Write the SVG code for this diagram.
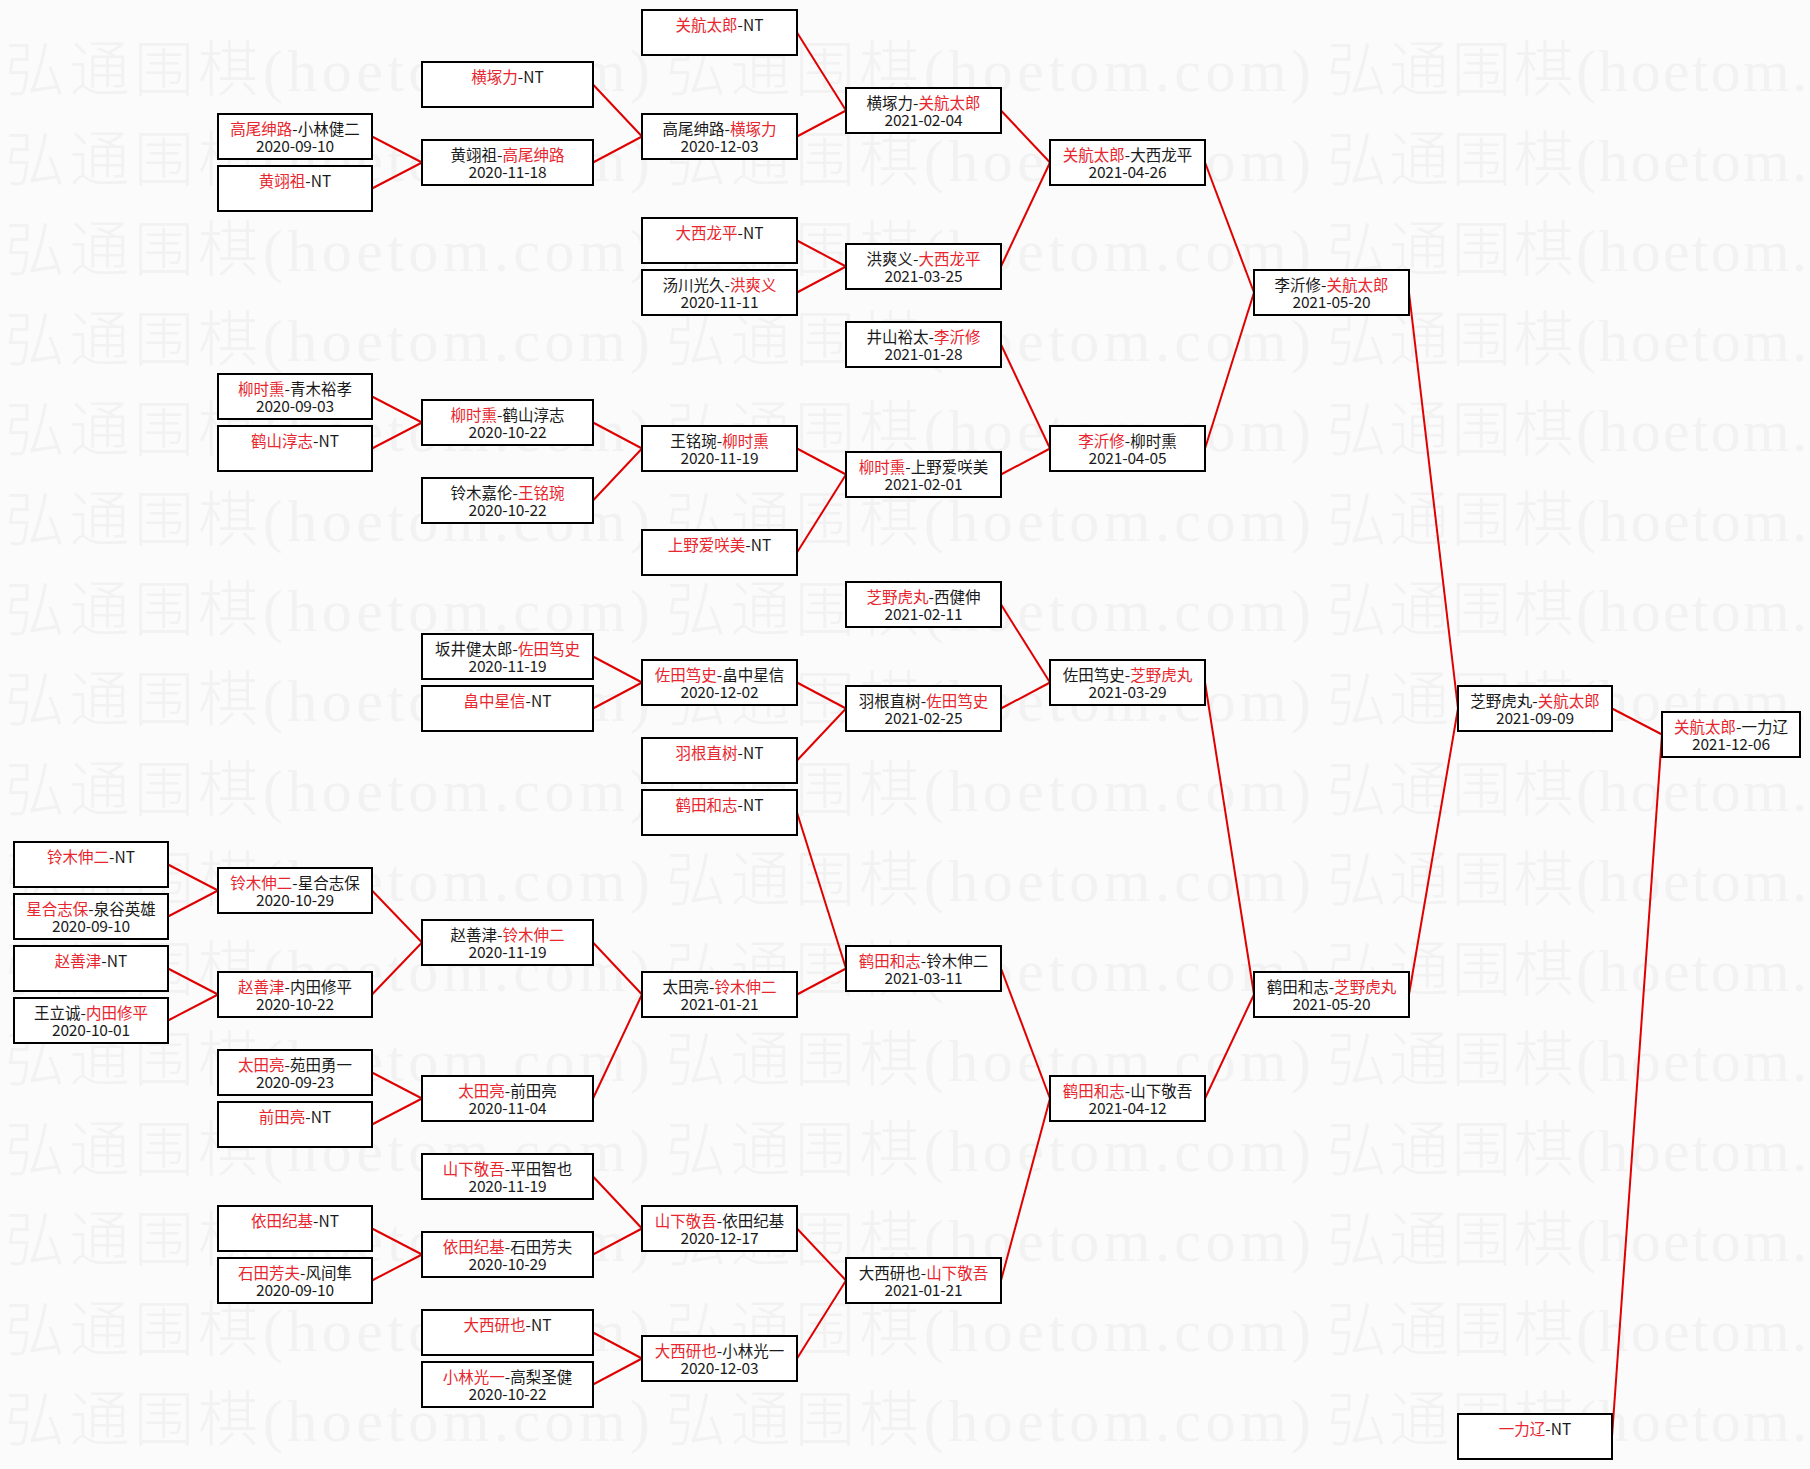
<svg xmlns="http://www.w3.org/2000/svg" width="1810" height="1469" viewBox="0 0 1810 1469">
<style>
.bg{fill:#fbfbfb}
.wm{font-family:"Noto Sans CJK SC",sans-serif;font-size:60px;font-weight:300;fill:#f2f2f2}
.wl{font-family:"Liberation Serif","Noto Sans CJK SC",serif}
.box{fill:#ffffff;stroke:#000000;stroke-width:2}
.t{font-family:"Noto Sans CJK SC",sans-serif;font-size:15.5px;fill:#1a1a1a;text-anchor:middle}
.r{fill:#e8262e}
.conn line{stroke:#e00000;stroke-width:2;fill:none}
</style>
<rect class="bg" x="0" y="0" width="1810" height="1469"/>
<g id="watermark">
<text class="wm" x="5" y="91" textLength="645" lengthAdjust="spacing">弘通围棋<tspan class="wl">(hoetom.com)</tspan></text><text class="wm" x="666" y="91" textLength="645" lengthAdjust="spacing">弘通围棋<tspan class="wl">(hoetom.com)</tspan></text><text class="wm" x="1327" y="91" textLength="480" lengthAdjust="spacing">弘通围棋<tspan class="wl">(hoetom.</tspan></text>
<text class="wm" x="5" y="181" textLength="645" lengthAdjust="spacing">弘通围棋<tspan class="wl">(hoetom.com)</tspan></text><text class="wm" x="666" y="181" textLength="645" lengthAdjust="spacing">弘通围棋<tspan class="wl">(hoetom.com)</tspan></text><text class="wm" x="1327" y="181" textLength="480" lengthAdjust="spacing">弘通围棋<tspan class="wl">(hoetom.</tspan></text>
<text class="wm" x="5" y="271" textLength="645" lengthAdjust="spacing">弘通围棋<tspan class="wl">(hoetom.com)</tspan></text><text class="wm" x="666" y="271" textLength="645" lengthAdjust="spacing">弘通围棋<tspan class="wl">(hoetom.com)</tspan></text><text class="wm" x="1327" y="271" textLength="480" lengthAdjust="spacing">弘通围棋<tspan class="wl">(hoetom.</tspan></text>
<text class="wm" x="5" y="361" textLength="645" lengthAdjust="spacing">弘通围棋<tspan class="wl">(hoetom.com)</tspan></text><text class="wm" x="666" y="361" textLength="645" lengthAdjust="spacing">弘通围棋<tspan class="wl">(hoetom.com)</tspan></text><text class="wm" x="1327" y="361" textLength="480" lengthAdjust="spacing">弘通围棋<tspan class="wl">(hoetom.</tspan></text>
<text class="wm" x="5" y="451" textLength="645" lengthAdjust="spacing">弘通围棋<tspan class="wl">(hoetom.com)</tspan></text><text class="wm" x="666" y="451" textLength="645" lengthAdjust="spacing">弘通围棋<tspan class="wl">(hoetom.com)</tspan></text><text class="wm" x="1327" y="451" textLength="480" lengthAdjust="spacing">弘通围棋<tspan class="wl">(hoetom.</tspan></text>
<text class="wm" x="5" y="541" textLength="645" lengthAdjust="spacing">弘通围棋<tspan class="wl">(hoetom.com)</tspan></text><text class="wm" x="666" y="541" textLength="645" lengthAdjust="spacing">弘通围棋<tspan class="wl">(hoetom.com)</tspan></text><text class="wm" x="1327" y="541" textLength="480" lengthAdjust="spacing">弘通围棋<tspan class="wl">(hoetom.</tspan></text>
<text class="wm" x="5" y="631" textLength="645" lengthAdjust="spacing">弘通围棋<tspan class="wl">(hoetom.com)</tspan></text><text class="wm" x="666" y="631" textLength="645" lengthAdjust="spacing">弘通围棋<tspan class="wl">(hoetom.com)</tspan></text><text class="wm" x="1327" y="631" textLength="480" lengthAdjust="spacing">弘通围棋<tspan class="wl">(hoetom.</tspan></text>
<text class="wm" x="5" y="721" textLength="645" lengthAdjust="spacing">弘通围棋<tspan class="wl">(hoetom.com)</tspan></text><text class="wm" x="666" y="721" textLength="645" lengthAdjust="spacing">弘通围棋<tspan class="wl">(hoetom.com)</tspan></text><text class="wm" x="1327" y="721" textLength="480" lengthAdjust="spacing">弘通围棋<tspan class="wl">(hoetom.</tspan></text>
<text class="wm" x="5" y="811" textLength="645" lengthAdjust="spacing">弘通围棋<tspan class="wl">(hoetom.com)</tspan></text><text class="wm" x="666" y="811" textLength="645" lengthAdjust="spacing">弘通围棋<tspan class="wl">(hoetom.com)</tspan></text><text class="wm" x="1327" y="811" textLength="480" lengthAdjust="spacing">弘通围棋<tspan class="wl">(hoetom.</tspan></text>
<text class="wm" x="5" y="901" textLength="645" lengthAdjust="spacing">弘通围棋<tspan class="wl">(hoetom.com)</tspan></text><text class="wm" x="666" y="901" textLength="645" lengthAdjust="spacing">弘通围棋<tspan class="wl">(hoetom.com)</tspan></text><text class="wm" x="1327" y="901" textLength="480" lengthAdjust="spacing">弘通围棋<tspan class="wl">(hoetom.</tspan></text>
<text class="wm" x="5" y="991" textLength="645" lengthAdjust="spacing">弘通围棋<tspan class="wl">(hoetom.com)</tspan></text><text class="wm" x="666" y="991" textLength="645" lengthAdjust="spacing">弘通围棋<tspan class="wl">(hoetom.com)</tspan></text><text class="wm" x="1327" y="991" textLength="480" lengthAdjust="spacing">弘通围棋<tspan class="wl">(hoetom.</tspan></text>
<text class="wm" x="5" y="1081" textLength="645" lengthAdjust="spacing">弘通围棋<tspan class="wl">(hoetom.com)</tspan></text><text class="wm" x="666" y="1081" textLength="645" lengthAdjust="spacing">弘通围棋<tspan class="wl">(hoetom.com)</tspan></text><text class="wm" x="1327" y="1081" textLength="480" lengthAdjust="spacing">弘通围棋<tspan class="wl">(hoetom.</tspan></text>
<text class="wm" x="5" y="1171" textLength="645" lengthAdjust="spacing">弘通围棋<tspan class="wl">(hoetom.com)</tspan></text><text class="wm" x="666" y="1171" textLength="645" lengthAdjust="spacing">弘通围棋<tspan class="wl">(hoetom.com)</tspan></text><text class="wm" x="1327" y="1171" textLength="480" lengthAdjust="spacing">弘通围棋<tspan class="wl">(hoetom.</tspan></text>
<text class="wm" x="5" y="1261" textLength="645" lengthAdjust="spacing">弘通围棋<tspan class="wl">(hoetom.com)</tspan></text><text class="wm" x="666" y="1261" textLength="645" lengthAdjust="spacing">弘通围棋<tspan class="wl">(hoetom.com)</tspan></text><text class="wm" x="1327" y="1261" textLength="480" lengthAdjust="spacing">弘通围棋<tspan class="wl">(hoetom.</tspan></text>
<text class="wm" x="5" y="1351" textLength="645" lengthAdjust="spacing">弘通围棋<tspan class="wl">(hoetom.com)</tspan></text><text class="wm" x="666" y="1351" textLength="645" lengthAdjust="spacing">弘通围棋<tspan class="wl">(hoetom.com)</tspan></text><text class="wm" x="1327" y="1351" textLength="480" lengthAdjust="spacing">弘通围棋<tspan class="wl">(hoetom.</tspan></text>
<text class="wm" x="5" y="1441" textLength="645" lengthAdjust="spacing">弘通围棋<tspan class="wl">(hoetom.com)</tspan></text><text class="wm" x="666" y="1441" textLength="645" lengthAdjust="spacing">弘通围棋<tspan class="wl">(hoetom.com)</tspan></text><text class="wm" x="1327" y="1441" textLength="480" lengthAdjust="spacing">弘通围棋<tspan class="wl">(hoetom.</tspan></text>
</g>
<g id="connectors" class="conn">
<line x1="168" y1="864.5" x2="218" y2="890.5"/>
<line x1="168" y1="916.5" x2="218" y2="890.5"/>
<line x1="168" y1="968.5" x2="218" y2="994.5"/>
<line x1="168" y1="1020.5" x2="218" y2="994.5"/>
<line x1="372" y1="136.5" x2="422" y2="162.5"/>
<line x1="372" y1="188.5" x2="422" y2="162.5"/>
<line x1="372" y1="396.5" x2="422" y2="422.5"/>
<line x1="372" y1="448.5" x2="422" y2="422.5"/>
<line x1="372" y1="890.5" x2="422" y2="942.5"/>
<line x1="372" y1="994.5" x2="422" y2="942.5"/>
<line x1="372" y1="1072.5" x2="422" y2="1098.5"/>
<line x1="372" y1="1124.5" x2="422" y2="1098.5"/>
<line x1="372" y1="1228.5" x2="422" y2="1254.5"/>
<line x1="372" y1="1280.5" x2="422" y2="1254.5"/>
<line x1="593" y1="84.5" x2="642" y2="136.5"/>
<line x1="593" y1="162.5" x2="642" y2="136.5"/>
<line x1="593" y1="422.5" x2="642" y2="448.5"/>
<line x1="593" y1="500.5" x2="642" y2="448.5"/>
<line x1="593" y1="656.5" x2="642" y2="682.5"/>
<line x1="593" y1="708.5" x2="642" y2="682.5"/>
<line x1="593" y1="942.5" x2="642" y2="994.5"/>
<line x1="593" y1="1098.5" x2="642" y2="994.5"/>
<line x1="593" y1="1176.5" x2="642" y2="1228.5"/>
<line x1="593" y1="1254.5" x2="642" y2="1228.5"/>
<line x1="593" y1="1332.5" x2="642" y2="1358.5"/>
<line x1="593" y1="1384.5" x2="642" y2="1358.5"/>
<line x1="797" y1="32.5" x2="846" y2="110.5"/>
<line x1="797" y1="136.5" x2="846" y2="110.5"/>
<line x1="797" y1="240.5" x2="846" y2="266.5"/>
<line x1="797" y1="292.5" x2="846" y2="266.5"/>
<line x1="797" y1="448.5" x2="846" y2="474.5"/>
<line x1="797" y1="552.5" x2="846" y2="474.5"/>
<line x1="797" y1="682.5" x2="846" y2="708.5"/>
<line x1="797" y1="760.5" x2="846" y2="708.5"/>
<line x1="797" y1="812.5" x2="846" y2="968.5"/>
<line x1="797" y1="994.5" x2="846" y2="968.5"/>
<line x1="797" y1="1228.5" x2="846" y2="1280.5"/>
<line x1="797" y1="1358.5" x2="846" y2="1280.5"/>
<line x1="1001" y1="110.5" x2="1050" y2="162.5"/>
<line x1="1001" y1="266.5" x2="1050" y2="162.5"/>
<line x1="1001" y1="344.5" x2="1050" y2="448.5"/>
<line x1="1001" y1="474.5" x2="1050" y2="448.5"/>
<line x1="1001" y1="604.5" x2="1050" y2="682.5"/>
<line x1="1001" y1="708.5" x2="1050" y2="682.5"/>
<line x1="1001" y1="968.5" x2="1050" y2="1098.5"/>
<line x1="1001" y1="1280.5" x2="1050" y2="1098.5"/>
<line x1="1205" y1="162.5" x2="1254" y2="292.5"/>
<line x1="1205" y1="448.5" x2="1254" y2="292.5"/>
<line x1="1205" y1="682.5" x2="1254" y2="994.5"/>
<line x1="1205" y1="1098.5" x2="1254" y2="994.5"/>
<line x1="1409" y1="292.5" x2="1458" y2="708.5"/>
<line x1="1409" y1="994.5" x2="1458" y2="708.5"/>
<line x1="1612" y1="708.5" x2="1662" y2="734.5"/>
<line x1="1612" y1="1436.5" x2="1662" y2="734.5"/>
</g>
<g id="n-c0-32"><rect class="box" x="14" y="842" width="154" height="45"/><text class="t" x="91" y="862.5"><tspan class="r">铃木伸二</tspan>-NT</text></g>
<g id="n-c0-34"><rect class="box" x="14" y="894" width="154" height="45"/><text class="t" x="91" y="914.5"><tspan class="r">星合志保</tspan>-泉谷英雄</text><text class="t" x="91" y="931.5" textLength="78" lengthAdjust="spacing">2020-09-10</text></g>
<g id="n-c0-36"><rect class="box" x="14" y="946" width="154" height="45"/><text class="t" x="91" y="966.5"><tspan class="r">赵善津</tspan>-NT</text></g>
<g id="n-c0-38"><rect class="box" x="14" y="998" width="154" height="45"/><text class="t" x="91" y="1018.5">王立诚-<tspan class="r">内田修平</tspan></text><text class="t" x="91" y="1035.5" textLength="78" lengthAdjust="spacing">2020-10-01</text></g>
<g id="n-c1-4"><rect class="box" x="218" y="114" width="154" height="45"/><text class="t" x="295" y="134.5"><tspan class="r">高尾绅路</tspan>-小林健二</text><text class="t" x="295" y="151.5" textLength="78" lengthAdjust="spacing">2020-09-10</text></g>
<g id="n-c1-6"><rect class="box" x="218" y="166" width="154" height="45"/><text class="t" x="295" y="186.5"><tspan class="r">黄翊祖</tspan>-NT</text></g>
<g id="n-c1-14"><rect class="box" x="218" y="374" width="154" height="45"/><text class="t" x="295" y="394.5"><tspan class="r">柳时熏</tspan>-青木裕孝</text><text class="t" x="295" y="411.5" textLength="78" lengthAdjust="spacing">2020-09-03</text></g>
<g id="n-c1-16"><rect class="box" x="218" y="426" width="154" height="45"/><text class="t" x="295" y="446.5"><tspan class="r">鹤山淳志</tspan>-NT</text></g>
<g id="n-c1-33"><rect class="box" x="218" y="868" width="154" height="45"/><text class="t" x="295" y="888.5"><tspan class="r">铃木伸二</tspan>-星合志保</text><text class="t" x="295" y="905.5" textLength="78" lengthAdjust="spacing">2020-10-29</text></g>
<g id="n-c1-37"><rect class="box" x="218" y="972" width="154" height="45"/><text class="t" x="295" y="992.5"><tspan class="r">赵善津</tspan>-内田修平</text><text class="t" x="295" y="1009.5" textLength="78" lengthAdjust="spacing">2020-10-22</text></g>
<g id="n-c1-40"><rect class="box" x="218" y="1050" width="154" height="45"/><text class="t" x="295" y="1070.5"><tspan class="r">太田亮</tspan>-苑田勇一</text><text class="t" x="295" y="1087.5" textLength="78" lengthAdjust="spacing">2020-09-23</text></g>
<g id="n-c1-42"><rect class="box" x="218" y="1102" width="154" height="45"/><text class="t" x="295" y="1122.5"><tspan class="r">前田亮</tspan>-NT</text></g>
<g id="n-c1-46"><rect class="box" x="218" y="1206" width="154" height="45"/><text class="t" x="295" y="1226.5"><tspan class="r">依田纪基</tspan>-NT</text></g>
<g id="n-c1-48"><rect class="box" x="218" y="1258" width="154" height="45"/><text class="t" x="295" y="1278.5"><tspan class="r">石田芳夫</tspan>-风间隼</text><text class="t" x="295" y="1295.5" textLength="78" lengthAdjust="spacing">2020-09-10</text></g>
<g id="n-c2-2"><rect class="box" x="422" y="62" width="171" height="45"/><text class="t" x="507.5" y="82.5"><tspan class="r">横塚力</tspan>-NT</text></g>
<g id="n-c2-5"><rect class="box" x="422" y="140" width="171" height="45"/><text class="t" x="507.5" y="160.5">黄翊祖-<tspan class="r">高尾绅路</tspan></text><text class="t" x="507.5" y="177.5" textLength="78" lengthAdjust="spacing">2020-11-18</text></g>
<g id="n-c2-15"><rect class="box" x="422" y="400" width="171" height="45"/><text class="t" x="507.5" y="420.5"><tspan class="r">柳时熏</tspan>-鹤山淳志</text><text class="t" x="507.5" y="437.5" textLength="78" lengthAdjust="spacing">2020-10-22</text></g>
<g id="n-c2-18"><rect class="box" x="422" y="478" width="171" height="45"/><text class="t" x="507.5" y="498.5">铃木嘉伦-<tspan class="r">王铭琬</tspan></text><text class="t" x="507.5" y="515.5" textLength="78" lengthAdjust="spacing">2020-10-22</text></g>
<g id="n-c2-24"><rect class="box" x="422" y="634" width="171" height="45"/><text class="t" x="507.5" y="654.5">坂井健太郎-<tspan class="r">佐田笃史</tspan></text><text class="t" x="507.5" y="671.5" textLength="78" lengthAdjust="spacing">2020-11-19</text></g>
<g id="n-c2-26"><rect class="box" x="422" y="686" width="171" height="45"/><text class="t" x="507.5" y="706.5"><tspan class="r">畠中星信</tspan>-NT</text></g>
<g id="n-c2-35"><rect class="box" x="422" y="920" width="171" height="45"/><text class="t" x="507.5" y="940.5">赵善津-<tspan class="r">铃木伸二</tspan></text><text class="t" x="507.5" y="957.5" textLength="78" lengthAdjust="spacing">2020-11-19</text></g>
<g id="n-c2-41"><rect class="box" x="422" y="1076" width="171" height="45"/><text class="t" x="507.5" y="1096.5"><tspan class="r">太田亮</tspan>-前田亮</text><text class="t" x="507.5" y="1113.5" textLength="78" lengthAdjust="spacing">2020-11-04</text></g>
<g id="n-c2-44"><rect class="box" x="422" y="1154" width="171" height="45"/><text class="t" x="507.5" y="1174.5"><tspan class="r">山下敬吾</tspan>-平田智也</text><text class="t" x="507.5" y="1191.5" textLength="78" lengthAdjust="spacing">2020-11-19</text></g>
<g id="n-c2-47"><rect class="box" x="422" y="1232" width="171" height="45"/><text class="t" x="507.5" y="1252.5"><tspan class="r">依田纪基</tspan>-石田芳夫</text><text class="t" x="507.5" y="1269.5" textLength="78" lengthAdjust="spacing">2020-10-29</text></g>
<g id="n-c2-50"><rect class="box" x="422" y="1310" width="171" height="45"/><text class="t" x="507.5" y="1330.5"><tspan class="r">大西研也</tspan>-NT</text></g>
<g id="n-c2-52"><rect class="box" x="422" y="1362" width="171" height="45"/><text class="t" x="507.5" y="1382.5"><tspan class="r">小林光一</tspan>-高梨圣健</text><text class="t" x="507.5" y="1399.5" textLength="78" lengthAdjust="spacing">2020-10-22</text></g>
<g id="n-c3-0"><rect class="box" x="642" y="10" width="155" height="45"/><text class="t" x="719.5" y="30.5"><tspan class="r">关航太郎</tspan>-NT</text></g>
<g id="n-c3-4"><rect class="box" x="642" y="114" width="155" height="45"/><text class="t" x="719.5" y="134.5">高尾绅路-<tspan class="r">横塚力</tspan></text><text class="t" x="719.5" y="151.5" textLength="78" lengthAdjust="spacing">2020-12-03</text></g>
<g id="n-c3-8"><rect class="box" x="642" y="218" width="155" height="45"/><text class="t" x="719.5" y="238.5"><tspan class="r">大西龙平</tspan>-NT</text></g>
<g id="n-c3-10"><rect class="box" x="642" y="270" width="155" height="45"/><text class="t" x="719.5" y="290.5">汤川光久-<tspan class="r">洪爽义</tspan></text><text class="t" x="719.5" y="307.5" textLength="78" lengthAdjust="spacing">2020-11-11</text></g>
<g id="n-c3-16"><rect class="box" x="642" y="426" width="155" height="45"/><text class="t" x="719.5" y="446.5">王铭琬-<tspan class="r">柳时熏</tspan></text><text class="t" x="719.5" y="463.5" textLength="78" lengthAdjust="spacing">2020-11-19</text></g>
<g id="n-c3-20"><rect class="box" x="642" y="530" width="155" height="45"/><text class="t" x="719.5" y="550.5"><tspan class="r">上野爱咲美</tspan>-NT</text></g>
<g id="n-c3-25"><rect class="box" x="642" y="660" width="155" height="45"/><text class="t" x="719.5" y="680.5"><tspan class="r">佐田笃史</tspan>-畠中星信</text><text class="t" x="719.5" y="697.5" textLength="78" lengthAdjust="spacing">2020-12-02</text></g>
<g id="n-c3-28"><rect class="box" x="642" y="738" width="155" height="45"/><text class="t" x="719.5" y="758.5"><tspan class="r">羽根直树</tspan>-NT</text></g>
<g id="n-c3-30"><rect class="box" x="642" y="790" width="155" height="45"/><text class="t" x="719.5" y="810.5"><tspan class="r">鹤田和志</tspan>-NT</text></g>
<g id="n-c3-37"><rect class="box" x="642" y="972" width="155" height="45"/><text class="t" x="719.5" y="992.5">太田亮-<tspan class="r">铃木伸二</tspan></text><text class="t" x="719.5" y="1009.5" textLength="78" lengthAdjust="spacing">2021-01-21</text></g>
<g id="n-c3-46"><rect class="box" x="642" y="1206" width="155" height="45"/><text class="t" x="719.5" y="1226.5"><tspan class="r">山下敬吾</tspan>-依田纪基</text><text class="t" x="719.5" y="1243.5" textLength="78" lengthAdjust="spacing">2020-12-17</text></g>
<g id="n-c3-51"><rect class="box" x="642" y="1336" width="155" height="45"/><text class="t" x="719.5" y="1356.5"><tspan class="r">大西研也</tspan>-小林光一</text><text class="t" x="719.5" y="1373.5" textLength="78" lengthAdjust="spacing">2020-12-03</text></g>
<g id="n-c4-3"><rect class="box" x="846" y="88" width="155" height="45"/><text class="t" x="923.5" y="108.5">横塚力-<tspan class="r">关航太郎</tspan></text><text class="t" x="923.5" y="125.5" textLength="78" lengthAdjust="spacing">2021-02-04</text></g>
<g id="n-c4-9"><rect class="box" x="846" y="244" width="155" height="45"/><text class="t" x="923.5" y="264.5">洪爽义-<tspan class="r">大西龙平</tspan></text><text class="t" x="923.5" y="281.5" textLength="78" lengthAdjust="spacing">2021-03-25</text></g>
<g id="n-c4-12"><rect class="box" x="846" y="322" width="155" height="45"/><text class="t" x="923.5" y="342.5">井山裕太-<tspan class="r">李沂修</tspan></text><text class="t" x="923.5" y="359.5" textLength="78" lengthAdjust="spacing">2021-01-28</text></g>
<g id="n-c4-17"><rect class="box" x="846" y="452" width="155" height="45"/><text class="t" x="923.5" y="472.5"><tspan class="r">柳时熏</tspan>-上野爱咲美</text><text class="t" x="923.5" y="489.5" textLength="78" lengthAdjust="spacing">2021-02-01</text></g>
<g id="n-c4-22"><rect class="box" x="846" y="582" width="155" height="45"/><text class="t" x="923.5" y="602.5"><tspan class="r">芝野虎丸</tspan>-西健伸</text><text class="t" x="923.5" y="619.5" textLength="78" lengthAdjust="spacing">2021-02-11</text></g>
<g id="n-c4-26"><rect class="box" x="846" y="686" width="155" height="45"/><text class="t" x="923.5" y="706.5">羽根直树-<tspan class="r">佐田笃史</tspan></text><text class="t" x="923.5" y="723.5" textLength="78" lengthAdjust="spacing">2021-02-25</text></g>
<g id="n-c4-36"><rect class="box" x="846" y="946" width="155" height="45"/><text class="t" x="923.5" y="966.5"><tspan class="r">鹤田和志</tspan>-铃木伸二</text><text class="t" x="923.5" y="983.5" textLength="78" lengthAdjust="spacing">2021-03-11</text></g>
<g id="n-c4-48"><rect class="box" x="846" y="1258" width="155" height="45"/><text class="t" x="923.5" y="1278.5">大西研也-<tspan class="r">山下敬吾</tspan></text><text class="t" x="923.5" y="1295.5" textLength="78" lengthAdjust="spacing">2021-01-21</text></g>
<g id="n-c5-5"><rect class="box" x="1050" y="140" width="155" height="45"/><text class="t" x="1127.5" y="160.5"><tspan class="r">关航太郎</tspan>-大西龙平</text><text class="t" x="1127.5" y="177.5" textLength="78" lengthAdjust="spacing">2021-04-26</text></g>
<g id="n-c5-16"><rect class="box" x="1050" y="426" width="155" height="45"/><text class="t" x="1127.5" y="446.5"><tspan class="r">李沂修</tspan>-柳时熏</text><text class="t" x="1127.5" y="463.5" textLength="78" lengthAdjust="spacing">2021-04-05</text></g>
<g id="n-c5-25"><rect class="box" x="1050" y="660" width="155" height="45"/><text class="t" x="1127.5" y="680.5">佐田笃史-<tspan class="r">芝野虎丸</tspan></text><text class="t" x="1127.5" y="697.5" textLength="78" lengthAdjust="spacing">2021-03-29</text></g>
<g id="n-c5-41"><rect class="box" x="1050" y="1076" width="155" height="45"/><text class="t" x="1127.5" y="1096.5"><tspan class="r">鹤田和志</tspan>-山下敬吾</text><text class="t" x="1127.5" y="1113.5" textLength="78" lengthAdjust="spacing">2021-04-12</text></g>
<g id="n-c6-10"><rect class="box" x="1254" y="270" width="155" height="45"/><text class="t" x="1331.5" y="290.5">李沂修-<tspan class="r">关航太郎</tspan></text><text class="t" x="1331.5" y="307.5" textLength="78" lengthAdjust="spacing">2021-05-20</text></g>
<g id="n-c6-37"><rect class="box" x="1254" y="972" width="155" height="45"/><text class="t" x="1331.5" y="992.5">鹤田和志-<tspan class="r">芝野虎丸</tspan></text><text class="t" x="1331.5" y="1009.5" textLength="78" lengthAdjust="spacing">2021-05-20</text></g>
<g id="n-c7-26"><rect class="box" x="1458" y="686" width="154" height="45"/><text class="t" x="1535" y="706.5">芝野虎丸-<tspan class="r">关航太郎</tspan></text><text class="t" x="1535" y="723.5" textLength="78" lengthAdjust="spacing">2021-09-09</text></g>
<g id="n-c7-54"><rect class="box" x="1458" y="1414" width="154" height="45"/><text class="t" x="1535" y="1434.5"><tspan class="r">一力辽</tspan>-NT</text></g>
<g id="n-c8-27"><rect class="box" x="1662" y="712" width="138" height="45"/><text class="t" x="1731" y="732.5"><tspan class="r">关航太郎</tspan>-一力辽</text><text class="t" x="1731" y="749.5" textLength="78" lengthAdjust="spacing">2021-12-06</text></g>
</svg>
